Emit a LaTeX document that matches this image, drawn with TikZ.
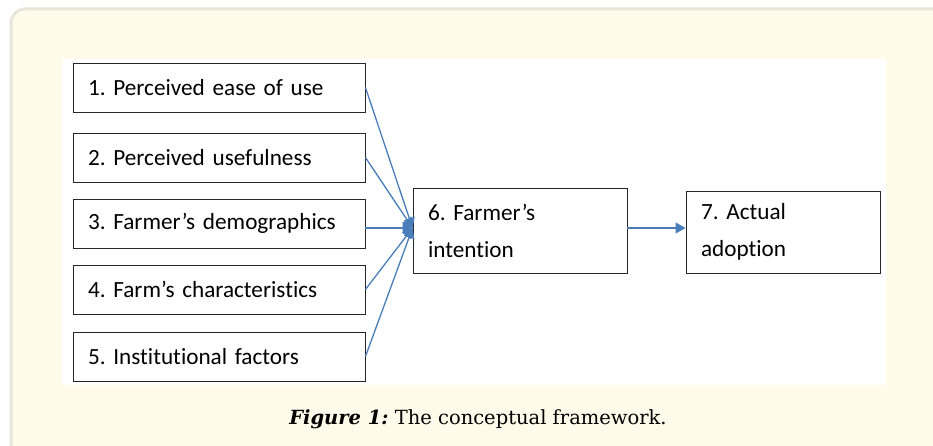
\documentclass[tikz,border=0pt]{standalone}
\usepackage{fontspec}
\setmainfont{DejaVu Serif}
\newfontfamily\boxfont[RawFeature={-liga}]{Carlito}
\usetikzlibrary{arrows.meta}
\definecolor{pagecream}{HTML}{FFFBEA}
\definecolor{framegray}{HTML}{E8E6DA}
\definecolor{linkblue}{HTML}{4A7EBB}
\definecolor{boxline}{HTML}{262626}
\frenchspacing
\begin{document}
\begin{tikzpicture}[x=1pt,y=-1pt,
	box/.style={draw=boxline, line width=0.9pt, fill=white, inner xsep=15pt, inner ysep=0pt,
		align=left, font=\boxfont\fontsize{23.2}{37}\selectfont},
	link/.style={draw=linkblue, line width=1.3pt, -{Triangle[length=10pt,width=11pt]}}]
	\useasboundingbox (0,0) rectangle (933,446);
	\draw[framegray, line width=3pt, fill=pagecream, rounded corners=14pt] (11,9) rectangle (960,470);
	\fill[white] (62,59) rectangle (886,385);

	\foreach \i/\y/\t in {1/87.5/{1. Perceived ease of use},
	                      2/157.5/{2. Perceived usefulness},
	                      3/223.5/{3. Farmer’s demographics},
	                      4/289.5/{4. Farm’s characteristics},
	                      5/356.5/{5. Institutional factors}}
	{
		\node[box, text width=262pt, minimum height=49pt] (f\i) at (219,\y) {\t};
	}
	\node[box, text width=184pt, minimum height=85pt] (b6) at (520,230.5) {6. Farmer’s\\intention};
	\node[box, text width=164pt, minimum height=82pt] (b7) at (783,232) {7. Actual\\adoption};
	\coordinate (hub) at ([yshift=2.5pt]b6.west);

	\foreach \i in {1,2,4,5}
		\draw[link] (f\i.east) -- (hub);
	\draw[link] (f3.east |- hub) -- (hub);
	\draw[link] (hub -| b6.east) -- (hub -| b7.west);

	\node[font=\fontsize{19.5}{24}\selectfont, anchor=base] (cap) at (478,424)
		{\textbf{\textit{Figure 1:}} The conceptual framework.};
\end{tikzpicture}
\end{document}
